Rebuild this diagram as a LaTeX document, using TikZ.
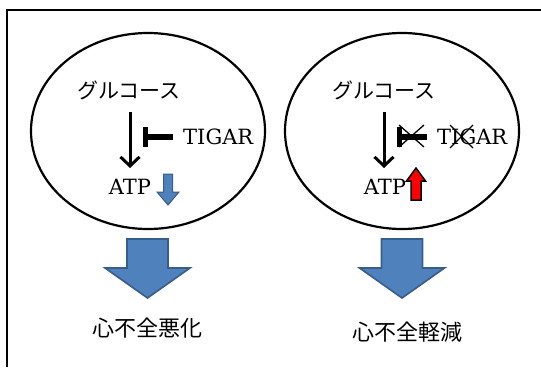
\documentclass[tikz,border=0pt]{standalone}
\usepackage{fontspec}
\newfontfamily\jp{Noto Sans CJK JP}
\newfontfamily\lat{DejaVu Serif}
\usetikzlibrary{arrows.meta,shapes.geometric}
\definecolor{offblue}{HTML}{4F81BD}
\definecolor{offblueline}{HTML}{385D8A}
\tikzset{
  cell/.style={draw, ellipse, line width=2.2pt, minimum width=234pt, minimum height=196pt, inner sep=0pt},
  jptext/.style={font=\jp\fontsize{21}{24}\selectfont, inner sep=0pt},
  resulttext/.style={font=\jp\fontsize{22}{26}\selectfont, inner sep=0pt},
  latintext/.style={font=\lat\fontsize{21}{24}\selectfont, inner sep=0pt},
  flow/.style={line width=3pt, -{Straight Barb[length=9pt,width=19pt,line width=3pt]}},
  inhline/.style={line width=5.5pt},
  inhbar/.style={line width=5.5pt},
  cross/.style={line width=1.3pt},
  bluearrow/.style={fill=offblue, draw=offblueline, line width=1.6pt, line join=miter},
  redarrow/.style={fill=red, draw=black, line width=1.5pt, line join=miter},
  bigdown/.pic={\draw[bluearrow] (-20.5,0) -- (20.5,0) -- (20.5,29) -- (42.5,29) -- (0,59) -- (-42.5,29) -- (-20.5,29) -- cycle;},
  smalldown/.pic={\draw[bluearrow, line width=1pt] (-4.5,0) -- (4.5,0) -- (4.5,18) -- (11,18) -- (0,31) -- (-11,18) -- (-4.5,18) -- cycle;},
  smallup/.pic={\draw[redarrow] (-5,0) -- (5,0) -- (5,-19) -- (9.5,-19) -- (0,-32) -- (-9.5,-19) -- (-5,-19) -- cycle;}
}
\begin{document}
\begin{tikzpicture}[x=1pt,y=-1pt]
\useasboundingbox (0,0) rectangle (541,367);
% frame (top and left edges only visible)
\draw[line width=2.2pt] (7,367) -- (7,10) -- (541,10);

% left cell
\node[cell] (cell1) at (148,131) {};
\node[jptext] (glc1) at (129,90) {グルコース};
\node[latintext] (atp1) at (130,187) {ATP};
\node[latintext, anchor=west] (tigar1) at (183,137) {TIGAR};
\draw[flow] (atp1.north |- 0,112) -- (atp1.north |- 0,168);
\coordinate (bar1) at (145.5,137);
\draw[inhline] ([xshift=-10pt]tigar1.west) -- (bar1);
\draw[inhbar] ([yshift=-10pt]bar1) -- ([yshift=10pt]bar1);
\pic at (168,174) {smalldown};

% right cell
\node[cell] (cell2) at (402,131) {};
\node[jptext] (glc2) at (384,90) {グルコース};
\node[latintext] (atp2) at (385,187) {ATP};
\node[latintext, anchor=west] (tigar2) at (437,137) {TIGAR};
\draw[flow] (384,112) -- (384,168);
\coordinate (bar2) at (399.5,137);
\draw[inhline] ([xshift=-10pt]tigar2.west) -- (bar2);
\draw[inhbar] ([yshift=-10pt]bar2) -- ([yshift=10pt]bar2);
\draw[cross] (399,125) -- (424,147);
\draw[cross] (399,147) -- (424,125);
\draw[cross] (450,125) -- (473,148);
\draw[cross] (450,148) -- (473,125);
\pic at (416,200) {smallup};

% outcome arrows
\pic at (147.5,239) {bigdown};
\pic at (402,239) {bigdown};
\node[resulttext] (res1) at (147,328) {心不全悪化};
\node[resulttext] (res2) at (407,332) {心不全軽減};
\end{tikzpicture}
\end{document}
